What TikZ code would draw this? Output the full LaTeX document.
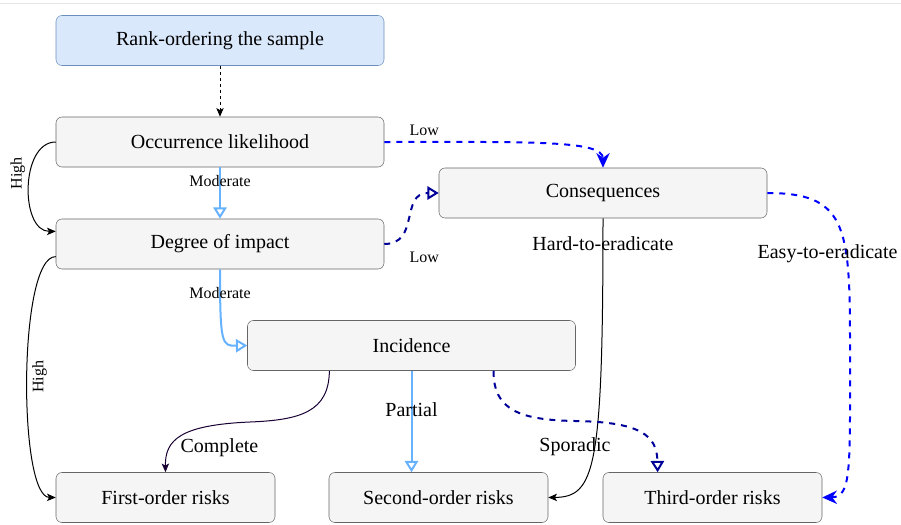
\documentclass[tikz,border=0pt]{standalone}
\usepackage{fontspec}
\setmainfont{Liberation Serif}
\usetikzlibrary{calc, arrows.meta}
\definecolor{boxfill}{HTML}{F5F5F5}
\definecolor{boxline}{HTML}{666666}
\definecolor{rankfill}{HTML}{DAE8FC}
\definecolor{rankline}{HTML}{6C8EBF}
\definecolor{softblue}{HTML}{66B2FF}
\definecolor{pureblue}{HTML}{0000FF}
\definecolor{navyline}{HTML}{000099}
\definecolor{plumline}{HTML}{190033}
\tikzset{box/.style={draw=boxline, fill=boxfill, rounded corners=4.5pt,
		minimum width=246pt, minimum height=37.5pt, inner sep=0pt,
		font=\fontsize{15}{18}\selectfont},
	riskbox/.style={box, minimum width=164.25pt},
	biglbl/.style={font=\fontsize{15}{18}\selectfont},
	smalllbl/.style={font=\fontsize{12}{14}\selectfont},
	thinflow/.style={line width=0.75pt, -{Stealth[length=6.5pt, width=5.5pt, inset=1.5pt]}},
	softflow/.style={draw=softblue, line width=1.5pt, -{Triangle[open, length=8.5pt, width=10pt]}},
	blueflow/.style={draw=pureblue, line width=1.5pt, dash pattern=on 4.5pt off 4.5pt,
		-{Stealth[length=11pt, width=10pt, inset=3.5pt]}},
	navyflow/.style={draw=navyline, line width=1.5pt, dash pattern=on 4.5pt off 4.5pt,
		-{Triangle[open, length=8.5pt, width=10pt]}},
}

\begin{document}
\begin{tikzpicture}[x=0.75pt, y=-0.75pt]
		\path [use as bounding box] (0,0) rectangle (901,525);
		\draw[gray!20, line width=0.75pt] (0,3) -- (901,3);
		% boxes
		\node[box, fill=rankfill, draw=rankline] (rank) at (220,40.5) {Rank-ordering the sample};
		\node[box] (occ) at (220,142) {Occurrence likelihood};
		\node[box] (deg) at (220,244) {Degree of impact};
		\node[box] (cons) at (603,193) {Consequences};
		\node[box] (inc) at (411.5,345.5) {Incidence};
		\node[riskbox] (first) at (165.5,497.5) {First-order risks};
		\node[riskbox] (second) at (438.5,497.5) {Second-order risks};
		\node[riskbox] (third) at (712.5,497.5) {Third-order risks};
		% flows
		\draw[thinflow, dash pattern=on 2.25pt off 2.25pt] (rank.south) -- (occ.north);
		\coordinate (d1) at ($ (deg.north west)!0.5!(deg.west) $);
		\coordinate (d2) at ($ (deg.south west)!0.5!(deg.west) $);
		\draw[thinflow] (occ.west) .. controls (20,142) and (20,231.5) .. (d1)
			node[smalllbl, rotate=90, pos=0.4, anchor=south] {High};
		\draw[thinflow] (d2) .. controls (18,256) and (18,497) .. (first.west)
			node[smalllbl, rotate=90, pos=0.5, anchor=north] {High};
		\draw[softflow] (occ.south) -- (deg.north) node[smalllbl, pos=0.27] {Moderate};
		\draw[softflow] (deg.south) .. controls (220,345) and (222,346) .. (inc.west)
			node[smalllbl, pos=0.12] {Moderate};
		\draw[blueflow] (occ.east) .. controls (530,142) and (603,140) .. (cons.north)
			node[smalllbl, pos=0, xshift=30pt, yshift=9pt] {Low};
		\draw[navyflow] (deg.east) .. controls (420,244) and (400,193) .. (cons.west)
			node[smalllbl, pos=0, xshift=30pt, yshift=-9.75pt] {Low};
		\draw[thinflow] (cons.south) .. controls (603,470) and (595,497) .. (second.east)
			node[biglbl, pos=0.035] {Hard-to-eradicate};
		\draw[blueflow] (cons.east) .. controls (845,193) and (850,225) .. (850,340)
			node[biglbl, pos=0.68, xshift=-14pt] {Easy-to-eradicate}
			.. controls (850,470) and (852,497) .. (third.east);
		\coordinate (i1) at ($ (inc.south west)!0.25!(inc.south east) $);
		\coordinate (i2) at ($ (inc.south west)!0.75!(inc.south east) $);
		\coordinate (t1) at ($ (third.north west)!0.25!(third.north east) $);
		\draw[thinflow, plumline] (i1) .. controls (329,412) and (300,420) .. (250,422)
			.. controls (180,425) and (165,440) .. (first.north)
			node[biglbl, pos=0.7, anchor=west, xshift=4pt, text=black] {Complete};
		\draw[softflow] (inc.south) -- (inc.south |- second.north)
			node[biglbl, pos=0.38] {Partial};
		\draw[navyflow] (i2) .. controls (493,410) and (520,420) .. (575,421)
			node[biglbl, pos=1, yshift=-19.5pt] {Sporadic}
			.. controls (640,422) and (657,435) .. (t1);
	\end{tikzpicture}
\end{document}
